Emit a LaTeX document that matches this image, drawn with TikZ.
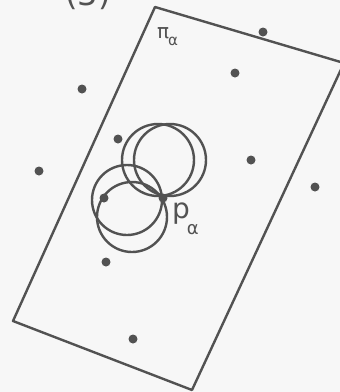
\documentclass[tikz,border=0pt]{standalone}
\usepackage{fontspec}
\setmainfont{DejaVu Sans}
\begin{document}
\begin{tikzpicture}[x=1pt,y=-1pt,
  ink/.style={draw=black!68,line width=2.4pt},
  pt/.style={circle,fill=black!68,inner sep=0pt,minimum size=9pt},
  lab/.style={text=black!68,inner sep=0pt}]
\useasboundingbox (0,0) rectangle (340,392);
\fill[black!3] (0,0) rectangle (340,392);
\clip (0,0) rectangle (340,392);
% plane
\coordinate (A) at (155,7);
\coordinate (B) at (344,63);
\coordinate (C) at (192,390);
\coordinate (D) at (13,321);
\draw[ink,line join=round] (A) -- (B) -- (C) -- (D) -- cycle;
% dots
\foreach \n/\x/\y in {d1/82/89,d2/263/32,d3/235/73,d4/118/139,d5/251/160,d6/39/171,d7/315/187,d8/104/198,d9/106/262,d10/133/339}
  \node[pt] (\n) at (\x,\y) {};
\node[pt] (P) at (163,198) {};
% circles
\draw[ink] (158,160) circle (36);
\draw[ink] (170,160) circle (36);
\draw[ink] (127,200) circle (35);
\draw[ink] (132,217) circle (35);
% labels
\node[lab,anchor=base west,font=\fontsize{28}{28}\selectfont] (pl) at (172,218)
  {p\kern-3pt\raisebox{-16pt}{\fontsize{18}{18}\selectfont α}};
\node[lab,anchor=base west,font=\fontsize{20}{20}\selectfont] (pil) at (157,38)
  {π\kern-1pt\raisebox{-7pt}{\fontsize{15}{15}\selectfont α}};
\node[lab,anchor=base,font=\fontsize{32}{32}\selectfont] (title) at (88,5) {(3)};
\end{tikzpicture}
\end{document}
